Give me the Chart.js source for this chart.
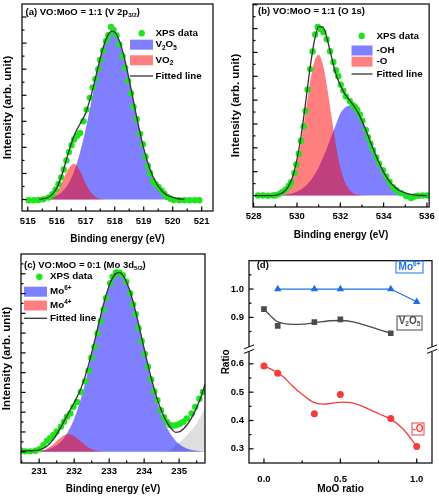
<!DOCTYPE html>
<html>
<head>
<meta charset="utf-8">
<script src="https://cdn.jsdelivr.net/npm/chart.js@4.4.0/dist/chart.umd.min.js"></script>
<style>
  html, body { margin: 0; padding: 0; background: #fff; }
  #wrap { position: relative; width: 439px; height: 500px; overflow: hidden; }
  canvas { position: absolute; }
</style>
</head>
<body>
<div id="wrap">
  <canvas id="chartA" width="220" height="250" style="left:0;top:0"></canvas>
  <canvas id="chartB" width="219" height="250" style="left:220px;top:0"></canvas>
  <canvas id="chartC" width="220" height="250" style="left:0;top:250px"></canvas>
  <canvas id="chartD" width="219" height="250" style="left:220px;top:250px"></canvas>
</div>
<script>
// ---- (a) VO:MoO = 1:1, V 2p3/2 ----
const xpsA_x = [515.03,515.20,515.37,515.54,515.72,515.85,515.96,516.06,516.15,516.24,516.33,516.42,516.51,516.60,516.70,516.80,516.92,517.03,517.14,517.24,517.33,517.43,517.50,517.60,517.70,517.78,517.87,517.96,518.06,518.16,518.27,518.36,518.46,518.56,518.65,518.76,518.87,518.97,519.06,519.14,519.22,519.31,519.40,519.51,519.62,519.71,519.82,519.93,520.03,520.22,520.40,520.58,520.76,520.92];
const xpsA_y = [-0.03,-0.03,-0.02,0.01,0.08,0.20,0.38,0.60,0.85,1.15,1.50,1.82,2.08,2.30,2.45,2.55,3.00,3.45,3.90,4.30,4.62,5.00,5.35,5.72,6.08,6.30,6.62,6.50,6.30,5.95,5.50,5.05,4.55,4.08,3.55,3.08,2.52,2.12,1.65,1.30,1.02,0.72,0.60,0.48,0.35,0.22,0.10,0.03,-0.02,-0.03,-0.03,-0.03,-0.03,-0.03];
const fitA_x = [515.4,515.6,515.8,516.0,516.2,516.4,516.6,516.8,517.0,517.2,517.4,517.6,517.8,517.9,518.0,518.2,518.4,518.6,518.8,519.0,519.2,519.4,519.6,519.8,520.0,520.2,520.4];
const fitA_y = [0.01,0.04,0.15,0.44,1.03,1.79,2.46,2.90,3.33,4.05,4.96,5.83,6.37,6.46,6.42,5.96,5.11,4.03,2.93,1.96,1.21,0.69,0.36,0.17,0.08,0.03,0.01];
const v2o5A_y = [0.01,0.03,0.07,0.15,0.32,0.61,1.09,1.80,2.72,3.81,4.90,5.82,6.37,6.46,6.42,5.96,5.11,4.03,2.93,1.96,1.21,0.69,0.36,0.17,0.08,0.03,0.01];
const vo2A_x = [515.4,515.6,515.8,516.0,516.2,516.4,516.6,516.8,517.0,517.2,517.4,517.6,517.8];
const vo2A_y = [0,0.02,0.08,0.29,0.71,1.18,1.37,1.10,0.61,0.24,0.06,0.01,0];

// ---- (b) VO:MoO = 1:1, O 1s ----
const xpsB_x = [528.20,528.43,528.66,528.89,529.02,529.16,529.31,529.47,529.62,529.73,529.88,529.97,530.08,530.18,530.31,530.40,530.49,530.61,530.72,530.84,530.96,531.07,531.22,531.37,531.53,531.68,531.80,531.91,532.02,532.14,532.26,532.44,532.56,532.67,532.78,532.90,533.02,533.18,533.28,533.39,533.51,533.66,533.79,533.97,534.12,534.27,534.43,534.58,534.81,535.04,535.27,535.42,535.60,535.80,536.03];
const xpsB_y = [0,0,-0.01,0,0.01,0.06,0.14,0.25,0.40,0.56,0.95,1.30,1.75,2.30,2.90,3.55,4.45,5.30,6.04,6.75,7.07,6.98,6.85,6.55,6.05,5.60,5.25,5.00,4.65,4.40,4.15,3.96,3.80,3.72,3.60,3.40,3.14,2.75,2.45,2.17,1.90,1.60,1.34,1.06,0.80,0.58,0.35,0.22,0.10,-0.02,-0.10,-0.04,-0.01,0,0];
const fitB_x = [528.2,528.6,529.0,529.2,529.4,529.6,529.8,530.0,530.2,530.4,530.6,530.8,531.0,531.2,531.4,531.6,531.8,532.0,532.2,532.4,532.6,532.8,533.0,533.2,533.4,533.6,533.8,534.0,534.2,534.4,534.6,534.8,535.0,535.2,535.4,535.6,536.0];
const fitB_y = [0,0,0.01,0.06,0.16,0.38,0.79,1.52,2.57,3.91,5.32,6.47,7.08,7.06,6.53,5.79,5.08,4.63,4.27,4.03,3.79,3.51,3.13,2.70,2.23,1.77,1.35,0.98,0.68,0.46,0.29,0.18,0.11,0.06,0.03,0.01,0];
const oxB_x = [528.8,529.0,529.2,529.4,529.6,529.8,530.0,530.2,530.4,530.6,530.8,531.0,531.2,531.4,531.6,531.8,532.0,532.2,532.4,532.6,532.8,533.0,533.2];
const oxB_y = [0,0.01,0.05,0.13,0.32,0.69,1.35,2.31,3.51,4.72,5.61,5.90,5.48,4.50,3.27,2.10,1.19,0.60,0.27,0.10,0.04,0.01,0];
const ohB_x = [529.0,529.2,529.4,529.6,529.8,530.0,530.2,530.4,530.6,530.8,531.0,531.2,531.4,531.6,531.8,532.0,532.2,532.4,532.6,532.8,533.0,533.2,533.4,533.6,533.8,534.0,534.2,534.4,534.6,534.8,535.0,535.2,535.4,535.6,535.8];
const ohB_y = [0,0.01,0.03,0.06,0.10,0.17,0.26,0.40,0.60,0.86,1.18,1.58,2.03,2.52,2.98,3.44,3.67,3.76,3.69,3.47,3.12,2.70,2.23,1.77,1.35,0.98,0.68,0.46,0.29,0.18,0.11,0.06,0.03,0.01,0];

// ---- (c) VO:MoO = 0:1, Mo 3d5/2 ----
const xpsC_x = [230.48,230.60,230.74,230.89,231.01,231.12,231.22,231.31,231.41,231.50,231.62,231.71,231.79,231.89,231.98,232.08,232.19,232.31,232.41,232.49,232.58,232.67,232.76,232.84,232.91,233.03,233.10,233.20,233.30,233.39,233.49,233.60,233.68,233.76,233.84,233.93,234.02,234.11,234.20,234.29,234.38,234.48,234.57,234.65,234.74,234.84,234.93,235.03,235.12,235.22,235.36,235.46,235.58,235.68];
const xpsC_y = [0.05,0.02,0.02,0.05,0.13,0.33,0.55,0.68,0.85,1.02,1.27,1.52,1.77,1.93,2.27,2.52,3.02,3.55,4.10,4.75,5.30,6.00,6.60,7.18,7.77,8.52,8.85,9.07,9.05,8.93,8.60,8.02,7.45,6.95,6.25,5.60,4.95,4.30,3.65,3.05,2.60,2.10,1.75,1.50,1.35,1.32,1.35,1.43,1.52,1.68,1.93,2.27,2.68,3.02];
const fitC_x = [230.48,230.6,230.8,231.0,231.2,231.4,231.6,231.8,232.0,232.2,232.4,232.6,232.8,233.0,233.2,233.3,233.4,233.6,233.8,234.0,234.2,234.4,234.6,234.8,234.9,235.0,235.2,235.4,235.6,235.74];
const fitC_y = [0.03,0.04,0.05,0.09,0.25,0.61,1.18,1.84,2.48,3.23,4.31,5.72,7.20,8.40,9.02,9.06,8.91,8.10,6.77,5.22,3.74,2.52,1.65,1.12,0.98,1.00,1.30,1.85,2.65,3.40];
const mo6C_x = [230.6,230.8,231.0,231.2,231.4,231.6,231.8,232.0,232.2,232.4,232.6,232.8,233.0,233.2,233.3,233.4,233.6,233.8,234.0,234.2,234.4,234.6,234.8,235.0,235.2,235.4,235.6,235.74];
const mo6C_y = [0,0.01,0.04,0.10,0.23,0.48,0.94,1.67,2.73,4.10,5.66,7.19,8.40,9.02,9.06,8.91,8.09,6.75,5.18,3.66,2.37,1.42,0.78,0.39,0.18,0.08,0.03,0.01];
const mo4C_x = [230.6,230.8,231.0,231.2,231.4,231.6,231.8,232.0,232.2,232.4,232.6,232.8,233.0];
const mo4C_y = [0,0.01,0.04,0.14,0.37,0.69,0.89,0.80,0.50,0.21,0.06,0.01,0];
const grayC_x = [234.5,234.7,234.9,235.1,235.3,235.5,235.65,235.74];
const grayC_y = [0,0.05,0.30,0.62,0.98,1.42,1.90,2.25];

// ---- (d) ratios vs MoO ratio ----
const mo6_x = [0.09,0.33,0.5,0.83,1.0];
const mo6_ratio = [1.0,1.0,1.0,1.0,0.955];
const v2o5_x = [0,0.09,0.33,0.5,0.83];
const v2o5_ratio = [0.929,0.870,0.883,0.893,0.844];
const v2o5Curve_x = [0,0.04,0.08,0.125,0.19,0.256,0.343,0.43,0.5,0.584,0.67,0.758,0.83];
const v2o5Curve_y = [0.929,0.907,0.887,0.879,0.875,0.876,0.882,0.888,0.889,0.884,0.871,0.856,0.844];
const o_x = [0,0.09,0.33,0.5,0.83,1.0];
const o_ratio = [0.592,0.567,0.424,0.492,0.407,0.308];
const oCurve_x = [0,0.06,0.125,0.19,0.256,0.321,0.387,0.452,0.518,0.584,0.671,0.758,0.83,0.911,1.0];
const oCurve_y = [0.592,0.577,0.555,0.52,0.49,0.465,0.458,0.461,0.465,0.461,0.444,0.422,0.405,0.37,0.308];

// tick values
const xTicksA = [515,516,517,518,519,520,521];
const xMinorA = [515.5,516.5,517.5,518.5,519.5,520.5];
const xTicksB = [528,530,532,534,536];
const xMinorB = [529,531,533,535];
const xTicksC = [231,232,233,234,235];
const xMinorC = [230.5,231.5,232.5,233.5,234.5,235.5];
const yTicksA = [0,1,2,3,4,5,6,7];
const yMinorA = [0.5,1.5,2.5,3.5,4.5,5.5,6.5];
const yTicksB = [0,1,2,3,4,5,6,7,8];
const yMinorB = [0.5,1.5,2.5,3.5,4.5,5.5,6.5,7.5];
const yTicksC = [0,1,2,3,4,5,6,7,8,9];
const yMinorC = [0.5,1.5,2.5,3.5,4.5,5.5,6.5,7.5,8.5,9.5];
const xTicksD = [0,0.5,1.0];
const xMinorD = [0.25,0.75];
const yTicksLow = [0.3,0.4,0.5,0.6];
const yMinorLow = [0.35,0.45,0.55];
const yTicksUp = [0.9,1.0];
const yMinorUp = [0.85,0.95,1.05];

const FONT = '"Liberation Sans", Arial, Helvetica, sans-serif';
const GREEN = 'rgb(30,228,30)';
const BLUE_FILL = 'rgba(0,0,255,0.5)';
const RED_FILL = 'rgba(255,0,0,0.5)';
const GRAY_FILL = 'rgba(195,195,195,0.55)';
const FIT_COLOR = '#333333';
const BLUE_D = 'rgb(30,110,230)';
const GRAY_D = 'rgb(75,75,75)';
const RED_D = 'rgb(245,60,60)';

Chart.defaults.font.family = FONT;
Chart.defaults.font.weight = 'bold';
Chart.defaults.font.size = 9.5;
Chart.defaults.color = '#000';
Chart.defaults.animation = false;

function pts(xs, ys) {
  return xs.map((x, i) => ({x: x, y: ys[i]}));
}

// text with sub/superscript runs: parts = [[text, ''|'sub'|'sup'], ...]
function drawRich(ctx, x, y, parts, size, color, align) {
  const fnt = s => 'bold ' + s + 'px ' + FONT;
  let w = 0;
  parts.forEach(([t, k]) => {
    ctx.font = fnt(k ? size * 0.65 : size);
    w += ctx.measureText(t).width;
  });
  let cx = align === 'center' ? x - w / 2 : x;
  ctx.fillStyle = color;
  ctx.textAlign = 'left';
  ctx.textBaseline = 'middle';
  parts.forEach(([t, k]) => {
    ctx.font = fnt(k ? size * 0.65 : size);
    const dy = k === 'sub' ? size * 0.32 : k === 'sup' ? -size * 0.36 : 0;
    ctx.fillText(t, cx, y + dy);
    cx += ctx.measureText(t).width;
  });
}

// frame, inward ticks, titles, legends, axis break
const decor = {
  id: 'decor',
  afterDraw(chart, args, o) {
    const ctx = chart.ctx;
    const a = chart.chartArea;
    ctx.save();
    ctx.strokeStyle = '#000';
    ctx.lineWidth = 1.2;
    (o.marks || []).forEach(m => {
      const sc = chart.scales[m.axis];
      [[m.major, 4.5], [m.minor, 2.5]].forEach(([vals, len]) => {
        vals.forEach(v => {
          const p = sc.getPixelForValue(v);
          ctx.beginPath();
          if (sc.isHorizontal()) {
            ctx.moveTo(p, a.bottom);
            ctx.lineTo(p, a.bottom - len);
          } else {
            ctx.moveTo(a.left, p);
            ctx.lineTo(a.left + len, p);
          }
          ctx.stroke();
        });
      });
    });
    ctx.strokeRect(a.left, a.top, a.right - a.left, a.bottom - a.top);

    if (o.breakAxis) {
      const yb = chart.scales[o.breakAxis].bottom;
      [a.left, a.right].forEach(x0 => {
        ctx.fillStyle = '#fff';
        ctx.fillRect(x0 - 2, yb - 2.5, 4, 5);
        ctx.lineWidth = 1;
        ctx.beginPath();
        ctx.moveTo(x0 - 5, yb - 0.5);
        ctx.lineTo(x0 + 5, yb - 4.5);
        ctx.moveTo(x0 - 5, yb + 4);
        ctx.lineTo(x0 + 5, yb);
        ctx.stroke();
      });
    }

    if (o.title) drawRich(ctx, o.title.x, o.title.y, o.title.parts, 9.5, '#000', 'left');

    if (o.yTitle) {
      ctx.save();
      ctx.translate(o.yTitle.x, (a.top + a.bottom) / 2);
      ctx.rotate(-Math.PI / 2);
      ctx.font = 'bold 10px ' + FONT;
      ctx.fillStyle = '#000';
      ctx.textAlign = 'center';
      ctx.textBaseline = 'middle';
      ctx.fillText(o.yTitle.text, 0, 0);
      ctx.restore();
    }

    if (o.legend) {
      const L = o.legend;
      L.items.forEach(it => {
        if (it.kind === 'dot') {
          ctx.fillStyle = GREEN;
          ctx.beginPath();
          ctx.arc(L.dotX, it.y, 3.2, 0, Math.PI * 2);
          ctx.fill();
        } else if (it.kind === 'box') {
          ctx.fillStyle = it.color;
          ctx.fillRect(L.x, it.y - 5, L.w, 10);
        } else {
          ctx.strokeStyle = FIT_COLOR;
          ctx.lineWidth = 1.3;
          ctx.beginPath();
          ctx.moveTo(L.x, it.y);
          ctx.lineTo(L.x + L.w, it.y);
          ctx.stroke();
        }
        drawRich(ctx, L.tx, it.y, it.parts, 9.8, '#000', 'left');
      });
    }

    (o.tags || []).forEach(t => {
      ctx.strokeStyle = t.color;
      ctx.lineWidth = 1;
      ctx.strokeRect(t.box[0], t.box[1], t.box[2], t.box[3]);
      drawRich(ctx, t.box[0] + t.box[2] / 2, t.ty, t.parts, 10, t.color, 'center');
    });
    ctx.restore();
  }
};

function energyAxis(min, max, ticks, h, pad, titlePad) {
  return {
    type: 'linear', min: min, max: max,
    afterBuildTicks: s => { s.ticks = ticks.map(v => ({value: v})); },
    afterFit: s => { s.height = h; },
    grid: {display: false, drawTicks: false},
    border: {display: false},
    ticks: {padding: pad, autoSkip: false, maxRotation: 0, color: '#000', font: {size: 9.5, weight: 'bold'}},
    title: {display: true, text: 'Binding energy (eV)', color: '#000', font: {size: 10, weight: 'bold'}, padding: {top: 0, bottom: titlePad}}
  };
}

function intensityAxis(min, max, w, titlePad) {
  return {
    type: 'linear', min: min, max: max,
    afterFit: s => { s.width = w; },
    grid: {display: false, drawTicks: false},
    border: {display: false},
    ticks: {display: false},
    title: {display: true, text: 'Intensity (arb. unit)', color: '#000', font: {size: 11.5, weight: 'bold'}, padding: {top: titlePad, bottom: 0}}
  };
}

function fitSet(xs, ys) {
  return {label: 'Fitted line', data: pts(xs, ys), borderColor: FIT_COLOR, borderWidth: 1.3, pointRadius: 0,
    cubicInterpolationMode: 'monotone', fill: false, order: 0};
}
function xpsSet(xs, ys) {
  return {label: 'XPS data', data: pts(xs, ys), showLine: false, pointRadius: 3.2, pointBorderWidth: 0,
    pointBackgroundColor: GREEN, borderColor: GREEN, order: 1};
}
function areaSet(label, xs, ys, color, order) {
  return {label: label, data: pts(xs, ys), backgroundColor: color, borderColor: 'rgba(0,0,0,0)', borderWidth: 0,
    pointRadius: 0, fill: 'origin', cubicInterpolationMode: 'monotone', order: order};
}

// (a)
new Chart(document.getElementById('chartA'), {
  type: 'line',
  data: {
    datasets: [
      fitSet(fitA_x, fitA_y),
      xpsSet(xpsA_x, xpsA_y),
      areaSet('VO2', vo2A_x, vo2A_y, RED_FILL, 2),
      areaSet('V2O5', fitA_x, v2o5A_y, BLUE_FILL, 3)
    ]
  },
  options: {
    responsive: false,
    layout: {padding: {left: 0, top: 2, right: 7, bottom: 0}},
    plugins: {
      legend: {display: false},
      tooltip: {enabled: false},
      decor: {
        marks: [{axis: 'x', major: xTicksA, minor: xMinorA}, {axis: 'y', major: yTicksA, minor: yMinorA}],
        title: {x: 25.5, y: 12, parts: [['(a) VO:MoO = 1:1 (V 2p', ''], ['3/2', 'sub'], [')', '']]},
        legend: {x: 130, w: 23, dotX: 141.7, tx: 155.5, items: [
          {kind: 'dot', y: 33.3, parts: [['XPS data', '']]},
          {kind: 'box', color: BLUE_FILL, y: 44.7, parts: [['V', ''], ['2', 'sub'], ['O', ''], ['5', 'sub']]},
          {kind: 'box', color: RED_FILL, y: 60.3, parts: [['VO', ''], ['2', 'sub']]},
          {kind: 'line', y: 76, parts: [['Fitted line', '']]}
        ]}
      }
    },
    scales: {
      x: energyAxis(514.8, 521.39, xTicksA, 39, 5, 5),
      y: intensityAxis(-0.44, 7.5, 22, 1)
    }
  },
  plugins: [decor]
});

// (b)
new Chart(document.getElementById('chartB'), {
  type: 'line',
  data: {
    datasets: [
      fitSet(fitB_x, fitB_y),
      xpsSet(xpsB_x, xpsB_y),
      areaSet('-O', oxB_x, oxB_y, RED_FILL, 2),
      areaSet('-OH', ohB_x, ohB_y, BLUE_FILL, 3)
    ]
  },
  options: {
    responsive: false,
    layout: {padding: {left: 0, top: 2, right: 9, bottom: 0}},
    plugins: {
      legend: {display: false},
      tooltip: {enabled: false},
      decor: {
        marks: [{axis: 'x', major: xTicksB, minor: xMinorB}, {axis: 'y', major: yTicksB, minor: yMinorB}],
        title: {x: 38, y: 11, parts: [['(b) VO:MoO = 1:1 (O 1s)', '']]},
        legend: {x: 131.5, w: 21, dotX: 141.7, tx: 156.5, items: [
          {kind: 'dot', y: 36, parts: [['XPS data', '']]},
          {kind: 'box', color: BLUE_FILL, y: 50.5, parts: [['-OH', '']]},
          {kind: 'box', color: RED_FILL, y: 61.7, parts: [['-O', '']]},
          {kind: 'line', y: 74, parts: [['Fitted line', '']]}
        ]}
      }
    },
    scales: {
      x: energyAxis(527.97, 536.1, xTicksB, 43, 4, 9),
      y: intensityAxis(-0.48, 8.03, 33, 9.1)
    }
  },
  plugins: [decor]
});

// (c)
new Chart(document.getElementById('chartC'), {
  type: 'line',
  data: {
    datasets: [
      fitSet(fitC_x, fitC_y),
      xpsSet(xpsC_x, xpsC_y),
      areaSet('Mo4+', mo4C_x, mo4C_y, RED_FILL, 2),
      areaSet('Mo6+', mo6C_x, mo6C_y, BLUE_FILL, 3),
      areaSet('background', grayC_x, grayC_y, GRAY_FILL, 4)
    ]
  },
  options: {
    responsive: false,
    layout: {padding: {left: 0, top: 2, right: 15, bottom: 0}},
    plugins: {
      legend: {display: false},
      tooltip: {enabled: false},
      decor: {
        marks: [{axis: 'x', major: xTicksC, minor: xMinorC}, {axis: 'y', major: yTicksC, minor: yMinorC}],
        title: {x: 24, y: 15, parts: [['(c) VO:MoO = 0:1 (Mo 3d', ''], ['5/2', 'sub'], [')', '']]},
        legend: {x: 24, w: 23, dotX: 39.3, tx: 50, items: [
          {kind: 'dot', y: 26.7, parts: [['XPS data', '']]},
          {kind: 'box', color: BLUE_FILL, y: 41.7, parts: [['Mo', ''], ['6+', 'sup']]},
          {kind: 'box', color: RED_FILL, y: 55.5, parts: [['Mo', ''], ['4+', 'sup']]},
          {kind: 'line', y: 68.3, parts: [['Fitted line', '']]}
        ]}
      }
    },
    scales: {
      x: energyAxis(230.48, 235.74, xTicksC, 37, 3, 4.7),
      y: intensityAxis(-0.57, 10, 21, 0.4)
    }
  },
  plugins: [decor]
});

// (d)
function ratioAxis(min, max, weight, ticks) {
  return {
    type: 'linear', position: 'left', stack: 'ratio', stackWeight: weight, min: min, max: max,
    afterBuildTicks: s => { s.ticks = ticks.map(v => ({value: v})); },
    afterFit: s => { s.width = 29; },
    grid: {display: false, drawTicks: false},
    border: {display: false},
    ticks: {padding: 5, color: '#000', font: {size: 9.5, weight: 'bold'}, callback: v => v.toFixed(1)}
  };
}

new Chart(document.getElementById('chartD'), {
  type: 'line',
  data: {
    datasets: [
      {label: 'Mo6+', data: pts(mo6_x, mo6_ratio), yAxisID: 'y2', borderColor: BLUE_D, backgroundColor: BLUE_D,
        borderWidth: 1.3, pointStyle: 'triangle', pointRadius: 4.3, pointBorderWidth: 0, tension: 0},
      {label: 'V2O5', data: pts(v2o5_x, v2o5_ratio), yAxisID: 'y2', showLine: false, pointStyle: 'rect',
        pointRadius: 4, pointBorderWidth: 0, backgroundColor: GRAY_D, borderColor: GRAY_D},
      {label: 'V2O5 trend', data: pts(v2o5Curve_x, v2o5Curve_y), yAxisID: 'y2', borderColor: GRAY_D,
        borderWidth: 1.3, pointRadius: 0, cubicInterpolationMode: 'monotone'},
      {label: '-O', data: pts(o_x, o_ratio), yAxisID: 'y', showLine: false, pointStyle: 'circle',
        pointRadius: 3.5, pointBorderWidth: 0, backgroundColor: RED_D, borderColor: RED_D},
      {label: '-O trend', data: pts(oCurve_x, oCurve_y), yAxisID: 'y', borderColor: RED_D,
        borderWidth: 1.3, pointRadius: 0, cubicInterpolationMode: 'monotone'}
    ]
  },
  options: {
    responsive: false,
    layout: {padding: {left: 0, top: 3, right: 7, bottom: 0}},
    plugins: {
      legend: {display: false},
      tooltip: {enabled: false},
      decor: {
        marks: [
          {axis: 'x', major: xTicksD, minor: xMinorD},
          {axis: 'y', major: yTicksLow, minor: yMinorLow},
          {axis: 'y2', major: yTicksUp, minor: yMinorUp}
        ],
        breakAxis: 'y2',
        title: {x: 36.7, y: 15, parts: [['(d)', '']]},
        yTitle: {text: 'Ratio', x: 6},
        tags: [
          {color: BLUE_D, box: [176, 11, 27, 12], ty: 17.5, parts: [['Mo', ''], ['6+', 'sup']]},
          {color: GRAY_D, box: [177, 66, 25, 14], ty: 71.5, parts: [['V', ''], ['2', 'sub'], ['O', ''], ['5', 'sub']]},
          {color: RED_D, box: [192, 173, 12, 12], ty: 179, parts: [['-O', '']]}
        ]
      }
    },
    scales: {
      x: {
        type: 'linear', min: -0.098, max: 1.1,
        afterBuildTicks: s => { s.ticks = xTicksD.map(v => ({value: v})); },
        afterFit: s => { s.height = 37; },
        grid: {display: false, drawTicks: false},
        border: {display: false},
        ticks: {padding: 11, autoSkip: false, maxRotation: 0, color: '#000', font: {size: 9.5, weight: 'bold'}, callback: v => v.toFixed(1)},
        title: {display: true, text: 'MoO ratio', color: '#000', font: {size: 10, weight: 'bold'}, padding: {top: 0, bottom: 4.7}}
      },
      y: ratioAxis(0.25, 0.651, 0.401, yTicksLow),
      y2: ratioAxis(0.787, 1.1, 0.313, yTicksUp)
    }
  },
  plugins: [decor]
});
</script>
</body>
</html>
